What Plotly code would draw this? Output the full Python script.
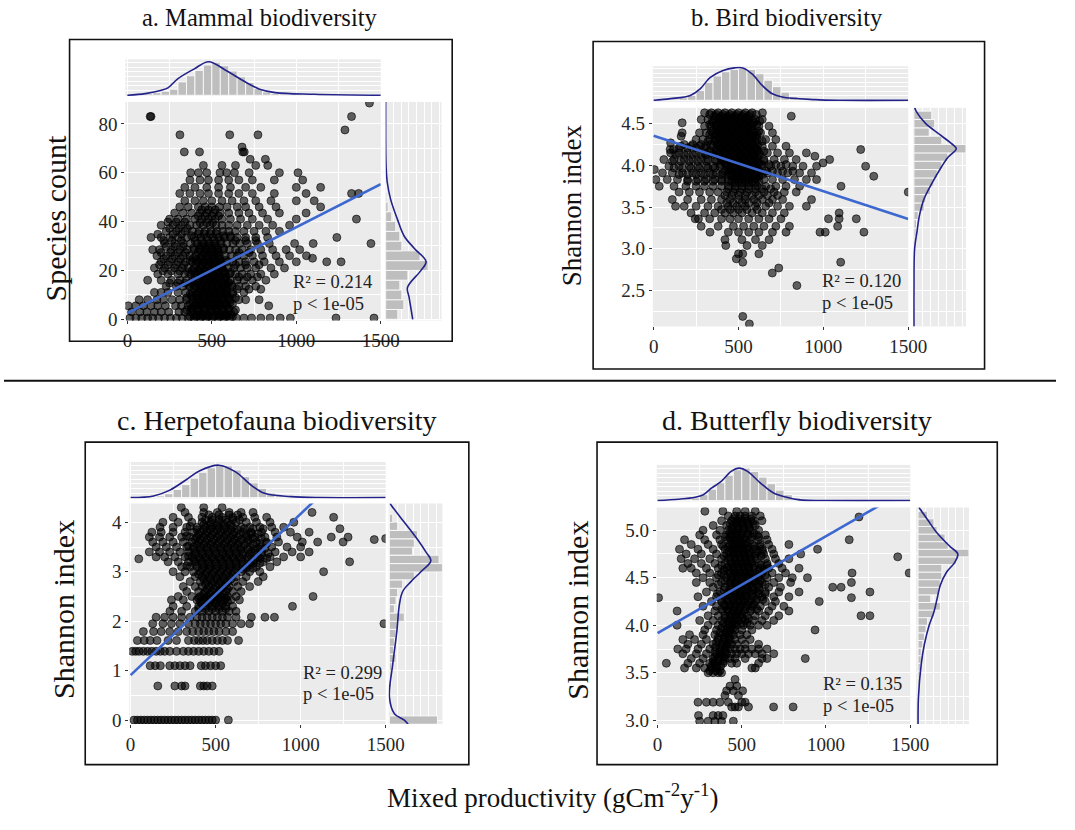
import plotly.graph_objects as go

W, H = 1075, 830
SERIF = "Liberation Serif, Times New Roman, serif"


def fx(p):
    return p / W


def fy(p):
    return 1 - p / H


# ---------------------------------------------------------------------------
# Shared x data
# ---------------------------------------------------------------------------
prod_ticks = [0, 500, 1000, 1500]
prod_minor = [250, 750, 1250]
fit_x = [0, 1500]
top_bin_centers = [25, 75, 125, 175, 225, 275, 325, 375, 425, 475, 525, 575, 625, 675, 725,
                   775, 825, 875, 925, 975, 1025, 1075, 1125, 1175, 1225, 1275, 1325, 1375, 1425, 1475]

# ---------------------------------------------------------------------------
# a. Mammals: species count  (rows of points: (y, [x, ...]))
# ---------------------------------------------------------------------------
mammal_rows = [
    (0.5, [15, 50, 85, 120, 150, 185, 220, 255, 290, 325, 360, 395, 430, 465, 500, 535, 570, 605, 645, 690, 735, 790, 845, 905, 965, 1235, 1460]),
    (1, [372, 408, 442, 478, 512, 548, 585, 622]),
    (1.5, [410, 445, 480, 515, 555, 590]),
    (2, [395, 430, 465, 540, 575, 615]),
    (3, [25, 75, 115, 160, 200, 245, 305, 340, 375, 425, 470, 500, 530, 575, 630]),
    (3.8, [352, 388, 422, 458, 492, 528, 566, 602, 640]),
    (4.5, [380, 415, 450, 490, 525, 560, 600]),
    (5.5, [5, 50, 95, 140, 180, 225, 285, 320, 360, 395, 440, 485, 515, 545, 590, 837]),
    (6.2, [372, 408, 442, 478, 512, 548, 585, 622]),
    (6.5, [430, 470, 505, 540, 580]),
    (7, [390, 425, 460, 495, 530, 570, 610]),
    (8, [70, 120, 175, 215, 265, 310, 350, 410, 455, 490, 530, 560, 610, 660, 700, 780]),
    (8.8, [352, 388, 422, 458, 492, 528, 566, 602, 640]),
    (9.5, [380, 410, 445, 480, 515, 550, 590]),
    (10.3, [372, 408, 442, 478, 512, 548, 585, 622]),
    (11, [160, 200, 240, 300, 345, 385, 420, 455, 490, 520, 555, 590, 625, 690]),
    (11.8, [440, 475, 510, 545, 585]),
    (12.3, [650, 720, 790]),
    (12.5, [395, 430, 465, 500, 535, 575]),
    (13.5, [230, 290, 330, 370, 405, 440, 470, 500, 530, 560, 590, 620, 660, 700, 760]),
    (14.2, [362, 398, 432, 468, 502, 538, 576, 612]),
    (14.8, [250, 300, 340]),
    (15, [380, 415, 450, 485, 520, 560, 600]),
    (16, [120, 200, 260, 310, 350, 385, 420, 455, 490, 520, 550, 580, 610, 650, 690, 740, 820]),
    (16.8, [430, 470, 505, 540, 575]),
    (17.3, [660, 710, 770]),
    (17.5, [400, 440, 475, 510, 545, 585]),
    (18.5, [180, 240, 300, 340, 375, 410, 445, 480, 510, 540, 575, 605, 640, 680, 730, 790, 870]),
    (19.2, [362, 398, 432, 468, 502, 538, 576, 612]),
    (19.8, [210, 260, 310]),
    (20, [385, 420, 460, 495, 530, 570]),
    (21, [160, 220, 280, 325, 360, 395, 430, 465, 500, 530, 560, 595, 630, 670, 710, 760, 850, 930]),
    (21.8, [440, 480, 520, 560]),
    (22.3, [190, 240, 290, 335, 640, 700, 780]),
    (22.5, [405, 445, 480, 515, 555]),
    (23.5, [200, 250, 300, 345, 385, 420, 455, 490, 520, 555, 590, 625, 660, 700, 750, 810, 900, 1000, 1180, 1265]),
    (24.2, [372, 408, 442, 478, 512, 548, 585]),
    (24.8, [215, 265, 315]),
    (25, [390, 430, 470, 505, 545, 1096]),
    (26, [175, 230, 280, 330, 370, 405, 440, 475, 510, 545, 580, 615, 650, 690, 740, 800, 880, 960, 1060]),
    (26.8, [455, 495, 530]),
    (27.3, [200, 255, 300, 345, 660, 720]),
    (27.5, [420, 460, 500, 540]),
    (28.5, [150, 190, 260, 310, 355, 395, 430, 465, 500, 535, 570, 605, 640, 680, 730, 790, 860, 940, 1020]),
    (29.2, [392, 428, 462, 498, 532, 568]),
    (29.8, [230, 280, 330]),
    (30, [440, 480, 520]),
    (31, [220, 280, 330, 375, 415, 450, 485, 520, 555, 590, 625, 665, 710, 770, 840, 990, 1100, 1442]),
    (32.2, [215, 265, 320, 400, 440, 478, 515, 552, 640, 700, 760]),
    (33.5, [140, 200, 250, 300, 350, 395, 435, 470, 505, 540, 575, 610, 650, 700, 760, 830, 1240]),
    (34.2, [380, 570, 610]),
    (34.8, [180, 270, 320]),
    (35, [420, 455, 490, 525]),
    (36, [230, 290, 340, 385, 425, 460, 495, 530, 565, 600, 640, 690, 750, 820, 900]),
    (37.2, [250, 305, 355]),
    (38.5, [200, 270, 320, 370, 410, 450, 490, 525, 560, 600, 650, 710, 780, 860, 960]),
    (39.5, [430, 470, 505]),
    (39.8, [240, 290, 340]),
    (41, [250, 300, 350, 400, 440, 480, 520, 560, 610, 670, 740, 830, 1000, 1356]),
    (42.3, [420, 460, 500, 540]),
    (43.5, [280, 330, 380, 430, 470, 510, 550, 600, 660, 720, 800, 900, 1058]),
    (44.8, [440, 480, 520]),
    (46, [310, 360, 420, 460, 500, 545, 590, 650, 700, 780, 880, 1144]),
    (48.5, [340, 400, 450, 500, 560, 620, 690, 760, 850, 1000, 1106]),
    (51.5, [310, 370, 430, 480, 540, 600, 660, 740, 870, 1058, 1327, 1369]),
    (54, [340, 400, 470, 540, 610, 700, 790, 1000, 1144]),
    (57, [370, 430, 480, 540, 600, 660, 740, 870, 1038]),
    (60, [375, 421, 470, 548, 588, 634, 721, 900, 1010]),
    (63, [450, 560, 640, 760, 831]),
    (65.5, [727, 817]),
    (68.5, [337, 427, 683, 692]),
    (70.5, [679]),
    (75.5, [311, 606, 773]),
    (77.5, [1288]),
    (83, [135, 140, 1327]),
    (88.5, [1433]),
]
mammal_fit = [2.5, 55.3]
mammal_top_hist = [0.01, 0.03, 0.05, 0.08, 0.12, 0.18, 0.40, 0.58, 0.74, 0.90, 0.98, 0.88, 0.72, 0.55, 0.38,
                   0.20, 0.10, 0.06, 0.04, 0.03, 0.02, 0.02, 0.01, 0.01, 0.01, 0.01, 0.01, 0.0, 0.01, 0.01]
mammal_top_curve_x = [0, 106, 202, 240, 298, 394, 481, 587, 683, 779, 875, 1106, 1500]
mammal_top_curve_y = [0.0, 0.05, 0.15, 0.22, 0.49, 0.78, 1.0, 0.73, 0.44, 0.19, 0.08, 0.03, 0.0]
mammal_right_bins = [2, 6, 10, 14, 18, 22, 26, 30, 34, 38, 42, 46, 50, 54, 58, 62, 66, 70, 74, 78, 82, 86]
mammal_right_hist = [0.30, 0.45, 0.40, 0.35, 0.55, 1.05, 0.85, 0.40, 0.35, 0.25, 0.15, 0.06, 0.03, 0.02,
                     0.01, 0.01, 0.01, 0.0, 0.01, 0.0, 0.01, 0.01]
mammal_right_curve_y = [0, 5, 9, 13, 20, 23.6, 29, 34, 41, 49, 56, 63, 75, 89]
mammal_right_curve_w = [0.67, 0.62, 0.58, 0.54, 0.875, 1.0, 0.71, 0.46, 0.29, 0.125, 0.04, 0.01, 0.0, 0.0]

# ---------------------------------------------------------------------------
# b. Birds: Shannon index
# ---------------------------------------------------------------------------
bird_rows = [
    (4.63, [300, 340, 380, 420, 460, 500, 540, 580, 641]),
    (4.61, [330, 368, 408, 448, 488, 528, 568, 605]),
    (4.59, [360, 400, 440, 480, 520, 560, 811]),
    (4.57, [385, 425, 465, 505, 545]),
    (4.55, [280, 320, 360, 400, 440, 480, 520, 560, 600, 640]),
    (4.53, [345, 385, 425, 465, 505, 545, 585, 625]),
    (4.51, [168, 350, 390, 430, 470, 510, 550, 590]),
    (4.49, [330, 368, 408, 448, 488, 528, 568, 608]),
    (4.47, [300, 340, 380, 420, 460, 500, 540, 580, 620, 680]),
    (4.45, [395, 435, 475, 515, 555]),
    (4.43, [370, 410, 450, 490, 530, 570]),
    (4.41, [340, 380, 420, 460, 500, 540, 580, 620]),
    (4.39, [168, 270, 310, 350, 390, 430, 470, 510, 550, 590, 630, 700]),
    (4.37, [330, 370, 410, 450, 490, 530, 570, 610]),
    (4.35, [162, 360, 400, 440, 480, 520, 560, 600]),
    (4.33, [385, 425, 465, 505, 545, 585]),
    (4.31, [250, 290, 330, 370, 410, 450, 490, 530, 570, 610, 660, 720]),
    (4.29, [320, 360, 400, 440, 480, 520, 560, 600, 640]),
    (4.27, [100, 380, 420, 460, 500, 540, 580]),
    (4.25, [180, 230, 280, 335, 375, 415, 455, 495, 535, 575, 615]),
    (4.23, [160, 220, 270, 310, 350, 390, 430, 470, 510, 550, 590, 640, 700, 780]),
    (4.21, [150, 200, 250, 300, 400, 440, 480, 520, 560, 600]),
    (4.19, [97, 116, 370, 410, 450, 490, 530, 570, 610, 1220]),
    (4.17, [330, 370, 410, 450, 490, 530, 570, 610, 650]),
    (4.15, [100, 150, 200, 250, 300, 340, 380, 420, 460, 500, 540, 580, 620, 670, 730, 800, 900]),
    (4.13, [130, 180, 230, 280, 310, 345, 385, 425, 465, 505, 545, 585, 625]),
    (4.11, [390, 430, 470, 510, 550, 590, 950]),
    (4.09, [410, 450, 490, 530, 570, 610]),
    (4.07, [60, 120, 180, 230, 280, 320, 360, 400, 440, 480, 520, 560, 600, 650, 710, 770, 840, 1037]),
    (4.05, [110, 160, 210, 260, 310, 370, 410, 450, 490, 530, 570, 610, 650]),
    (4.03, [420, 460, 500, 540, 580, 620, 998]),
    (4.01, [395, 435, 475, 515, 555, 595, 635, 680, 720, 780]),
    (3.99, [90, 150, 210, 260, 310, 350, 390, 430, 470, 510, 550, 590, 640, 690, 750, 820, 880, 960, 1249]),
    (3.97, [120, 170, 220, 270, 320, 360, 450, 490, 530, 570, 610]),
    (3.95, [4, 440, 480, 520, 560, 600]),
    (3.93, [420, 460, 500, 540, 580, 620, 660, 700, 760, 820]),
    (3.91, [52, 110, 170, 230, 280, 330, 370, 410, 450, 490, 530, 570, 620, 670, 730, 790, 860, 930]),
    (3.89, [150, 200, 250, 300, 350, 400, 440, 480, 520, 560, 600, 640]),
    (3.87, [460, 500, 540, 580, 620, 1297]),
    (3.85, [480, 520, 560, 600]),
    (3.83, [13, 80, 140, 200, 260, 310, 360, 400, 440, 480, 520, 560, 600, 650, 700, 760, 830, 900, 960]),
    (3.81, [200, 250, 300, 350, 400, 440, 460, 500, 540, 580, 620]),
    (3.79, [480, 520, 560, 600]),
    (3.75, [33, 120, 190, 250, 300, 350, 400, 440, 480, 520, 560, 610, 660, 720, 780, 860, 1104]),
    (3.72, [440, 480, 520, 560, 600, 640, 690]),
    (3.68, [150, 210, 270, 330, 380, 430, 470, 510, 550, 600, 650, 710, 770, 840, 1500]),
    (3.64, [420, 460, 500, 540, 580, 620, 670, 730]),
    (3.59, [110, 200, 280, 340, 400, 450, 500, 540, 590, 640, 700, 760, 930]),
    (3.55, [430, 470, 520, 560, 610, 680]),
    (3.51, [129, 180, 250, 320, 380, 440, 490, 540, 600, 660, 730, 800, 900]),
    (3.47, [400, 450, 500, 550, 610]),
    (3.43, [220, 300, 360, 420, 470, 520, 580, 640, 700, 770, 1093]),
    (3.36, [245, 264, 330, 400, 450, 500, 560, 620, 680, 750, 1030, 1093, 1194]),
    (3.27, [280, 380, 470, 530, 590, 650, 720, 800, 1084]),
    (3.20, [332, 440, 500, 560, 620, 700, 780, 980, 1011, 1239]),
    (3.11, [420, 520, 600, 680]),
    (3.04, [425, 550, 640]),
    (2.94, [500, 525, 620]),
    (2.88, [487]),
    (2.84, [525, 1102]),
    (2.77, [737]),
    (2.71, [699]),
    (2.56, [844]),
    (2.19, [525]),
    (2.10, [564]),
]
bird_fit = [4.354, 3.358]
bird_top_hist = [0.01, 0.02, 0.04, 0.08, 0.15, 0.30, 0.55, 0.75, 0.88, 0.95, 0.98, 0.95, 0.82, 0.62, 0.42,
                 0.25, 0.12, 0.06, 0.03, 0.02, 0.01, 0.01, 0.01, 0.0, 0.01, 0.0, 0.01, 0.0, 0.0, 0.01]
bird_top_curve_x = [0, 100, 216, 274, 332, 409, 477, 525, 583, 641, 699, 757, 950, 1104, 1500]
bird_top_curve_y = [0.0, 0.05, 0.15, 0.35, 0.70, 0.92, 1.0, 1.0, 0.80, 0.45, 0.20, 0.10, 0.02, 0.0, 0.0]
bird_right_bins = [2.1, 2.2, 2.3, 2.4, 2.5, 2.6, 2.7, 2.8, 2.9, 3.0, 3.1, 3.2, 3.3, 3.4, 3.5, 3.6, 3.7,
                   3.8, 3.9, 4.0, 4.1, 4.2, 4.3, 4.4, 4.5, 4.6]
bird_right_hist = [0.01, 0.01, 0.0, 0.0, 0.01, 0.01, 0.01, 0.02, 0.02, 0.02, 0.03, 0.05, 0.06, 0.10, 0.24,
                   0.28, 0.39, 0.47, 0.55, 0.66, 0.80, 1.23, 0.66, 0.36, 0.49, 0.42]
bird_right_curve_y = [2.07, 2.5, 3.0, 3.2, 3.4, 3.6, 3.79, 3.99, 4.1, 4.2, 4.26, 4.38, 4.5, 4.65, 4.69]
bird_right_curve_w = [0.0, 0.0, 0.015, 0.07, 0.13, 0.24, 0.43, 0.66, 0.81, 1.0, 0.89, 0.58, 0.28, 0.05, 0.02]

# ---------------------------------------------------------------------------
# c. Herpetofauna: Shannon index
# ---------------------------------------------------------------------------
herp_rows = [
    (0.0, [20, 40, 60, 80, 100, 120, 140, 160, 180, 200, 220, 240, 260, 280, 300, 320, 340, 360, 380, 400, 420, 440, 460, 480, 500, 575]),
    (0.69, [160, 260, 300, 320, 410, 430, 450, 480]),
    (1.1, [115, 145, 175, 230, 260, 290, 320, 350, 415, 440, 470, 500, 530]),
    (1.39, [10, 30, 50, 75, 100, 125, 150, 175, 200, 230, 270, 310, 340, 370, 400, 430, 460, 490, 520]),
    (1.61, [40, 80, 115, 155, 220, 270, 340, 375, 400, 425, 450, 480, 510, 540, 570, 635]),
    (1.79, [75, 135, 180, 230, 280, 330, 365, 400, 430, 460, 490, 520, 560, 600]),
    (1.95, [130, 190, 240, 290, 340, 380, 410, 440, 470, 500, 530, 560, 600, 650, 700, 1490]),
    (2.08, [150, 200, 250, 300, 350, 390, 420, 450, 480, 510, 540, 570, 620, 710, 790, 846]),
    (2.2, [231, 300, 380, 420, 460, 500, 540, 580, 620]),
    (2.25, [400, 440, 480, 520, 560]),
    (2.3, [250, 330, 400, 440, 480, 520, 560, 600, 952]),
    (2.35, [420, 460, 500, 540]),
    (2.4, [410, 450, 490, 530, 570]),
    (2.43, [240, 310, 390, 430, 470, 510, 550, 590, 640]),
    (2.47, [400, 440, 480, 520, 560]),
    (2.5, [280, 360, 410, 450, 490, 530, 570, 620, 1073]),
    (2.55, [430, 470, 510, 550]),
    (2.6, [330, 400, 440, 480, 520, 560, 600, 650]),
    (2.65, [450, 490, 530, 570]),
    (2.7, [310, 380, 420, 460, 500, 540, 580, 630, 700]),
    (2.75, [440, 480, 520, 560]),
    (2.8, [350, 410, 450, 490, 530, 570, 610, 660, 750]),
    (2.85, [430, 470, 510, 550, 590]),
    (2.9, [290, 380, 420, 460, 500, 540, 580, 620, 680, 780]),
    (2.95, [400, 440, 480, 520, 560, 600]),
    (3.0, [250, 320, 370, 410, 450, 490, 530, 570, 610, 650, 700, 760, 1135]),
    (3.05, [420, 460, 500, 540, 580, 620, 660]),
    (3.07, [680, 720]),
    (3.1, [300, 350, 390, 430, 470, 510, 550, 590, 630, 680, 740, 820]),
    (3.12, [330]),
    (3.15, [380, 420, 460, 500, 540, 580, 620, 660, 700]),
    (3.17, [720, 760]),
    (3.2, [220, 280, 340, 380, 420, 460, 500, 540, 580, 620, 660, 710, 780, 860, 1288]),
    (3.25, [370, 410, 450, 490, 530, 570, 610, 650, 690, 730]),
    (3.26, [48]),
    (3.27, [760, 800]),
    (3.3, [150, 200, 260, 320, 360, 400, 440, 480, 520, 560, 600, 640, 690, 750, 820, 900, 1000]),
    (3.32, [340]),
    (3.35, [380, 420, 460, 500, 540, 580, 620, 660, 700, 770]),
    (3.37, [730, 810]),
    (3.4, [110, 170, 230, 290, 340, 380, 420, 460, 500, 540, 580, 620, 660, 710, 770, 850, 950, 1050]),
    (3.45, [370, 410, 450, 490, 530, 570, 610, 650, 690, 730]),
    (3.47, [750, 790]),
    (3.5, [150, 210, 270, 330, 370, 410, 450, 490, 530, 570, 610, 650, 700, 760, 830, 920, 1000]),
    (3.52, [340]),
    (3.55, [390, 430, 470, 510, 550, 590, 630, 670, 720]),
    (3.57, [760, 800]),
    (3.6, [130, 190, 250, 310, 360, 400, 440, 480, 520, 560, 600, 640, 690, 740, 800, 870, 1010, 1100, 1250]),
    (3.65, [380, 410, 450, 490, 530, 570, 610, 650, 690, 1433]),
    (3.67, [720, 770, 1500]),
    (3.7, [110, 170, 230, 300, 350, 390, 430, 470, 510, 550, 590, 630, 680, 730, 790, 860, 980, 1180, 1279]),
    (3.72, [330]),
    (3.75, [400, 440, 480, 520, 560, 600, 640, 680]),
    (3.77, [710, 750]),
    (3.8, [125, 180, 250, 320, 370, 410, 450, 490, 530, 570, 610, 660, 710, 770, 850, 940, 1050]),
    (3.85, [390, 430, 470, 510, 550, 590, 630]),
    (3.87, [670, 720, 780, 1231]),
    (3.9, [173, 250, 330, 390, 440, 480, 520, 560, 600, 650, 700, 760, 830, 900]),
    (3.92, [350]),
    (3.95, [430, 470, 510, 550, 590]),
    (4.0, [190, 280, 360, 420, 470, 520, 570, 620, 680, 740, 820, 960]),
    (4.05, [440, 480, 520, 560, 600, 640]),
    (4.1, [250, 340, 420, 480, 540, 600, 660, 730, 800, 1194]),
    (4.15, [460, 520, 580, 630]),
    (4.2, [320, 430, 510, 580, 650, 720, 1067]),
    (4.3, [298, 430, 538]),
]
herp_fit = [0.91, 5.80]
herp_top_hist = [0.01, 0.02, 0.03, 0.05, 0.12, 0.25, 0.40, 0.60, 0.78, 0.92, 1.00, 0.98, 0.85, 0.65, 0.45,
                 0.28, 0.14, 0.06, 0.03, 0.02, 0.01, 0.01, 0.01, 0.0, 0.0, 0.01, 0.0, 0.0, 0.0, 0.01]
herp_top_curve_x = [0, 135, 231, 327, 404, 519, 615, 712, 788, 942, 1115, 1500]
herp_top_curve_y = [0.0, 0.05, 0.23, 0.55, 0.82, 1.0, 0.80, 0.37, 0.13, 0.03, 0.0, 0.0]
herp_right_bins = [0.0, 0.25, 0.42, 0.58, 0.75, 0.92, 1.08, 1.25, 1.42, 1.58, 1.75, 1.92, 2.08, 2.25,
                   2.42, 2.58, 2.75, 2.92, 3.08, 3.25, 3.42, 3.58, 3.75, 3.92, 4.08, 4.25]
herp_right_hist = [1.16, 0.02, 0.02, 0.03, 0.05, 0.04, 0.06, 0.16, 0.10, 0.12, 0.16, 0.20, 0.36, 0.12,
                   0.16, 0.20, 0.32, 0.60, 1.28, 1.20, 0.56, 0.60, 0.68, 0.20, 0.08, 0.03]
herp_right_curve_y = [-0.08, 0.0, 0.13, 0.47, 1.13, 1.8, 2.33, 2.6, 2.8, 3.0, 3.22, 3.4, 3.65, 4.0, 4.35, 4.38]
herp_right_curve_w = [0.45, 0.36, 0.12, 0.0, 0.08, 0.18, 0.24, 0.32, 0.52, 0.76, 1.0, 0.88, 0.68, 0.36, 0.04, 0.02]

# ---------------------------------------------------------------------------
# d. Butterflies: Shannon index
# ---------------------------------------------------------------------------
butterfly_rows = [
    (2.99, [250, 300, 340, 380, 450]),
    (3.05, [243, 330, 360, 388]),
    (3.14, [440, 460, 480, 540, 689, 805]),
    (3.19, [240, 290, 330, 370, 420, 500, 520]),
    (3.26, [400, 480]),
    (3.31, [410, 450, 505]),
    (3.36, [430, 470]),
    (3.43, [460]),
    (3.5, [300, 330, 360, 380]),
    (3.52, [310, 345, 370]),
    (3.55, [160, 230, 280, 320, 350, 560, 580]),
    (3.57, [320, 350, 375]),
    (3.6, [52, 180, 250, 310, 340, 390, 440, 470, 600]),
    (3.62, [330, 360, 390]),
    (3.65, [200, 270, 330, 360, 400, 430, 460, 520, 620, 650, 877]),
    (3.67, [340, 370, 395]),
    (3.7, [150, 230, 290, 350, 380, 410, 440, 470, 500, 540, 580, 620, 690]),
    (3.72, [340, 370, 400]),
    (3.75, [120, 170, 240, 310, 370, 400, 430, 460, 490, 520, 560, 600, 650]),
    (3.77, [345, 380, 410]),
    (3.8, [180, 260, 330, 380, 410, 440, 470, 520, 600]),
    (3.82, [350, 390, 420]),
    (3.85, [150, 220, 290, 360, 400, 430, 460, 500, 550]),
    (3.87, [360, 395, 425]),
    (3.9, [190, 270, 340, 390, 420, 450, 490, 530]),
    (3.92, [370, 405, 440]),
    (3.95, [280, 350, 400, 430, 460, 500, 560, 935]),
    (3.97, [380, 415, 450]),
    (4.0, [116, 300, 360, 410, 440, 470, 510, 550, 600, 650]),
    (4.02, [390, 425, 460, 495, 530]),
    (4.05, [250, 330, 380, 420, 450, 480, 520, 570, 620, 690]),
    (4.07, [400, 435, 470, 505, 540]),
    (4.1, [300, 360, 400, 430, 460, 490, 530, 580, 640, 720, 1208, 1261]),
    (4.12, [440, 470, 500]),
    (4.15, [116, 340, 390, 420, 450, 480, 510, 550, 600, 660, 780]),
    (4.17, [380, 415, 450, 485, 520, 555, 590]),
    (4.2, [270, 350, 400, 430, 460, 490, 520, 560, 610, 680, 750]),
    (4.22, [395, 430, 465, 500, 535, 570]),
    (4.25, [320, 380, 420, 450, 480, 510, 540, 580, 640, 700, 960]),
    (4.27, [380, 415, 450, 485, 520, 555, 590, 625]),
    (4.29, [6, 1151]),
    (4.3, [240, 350, 400, 440, 470, 500, 530, 570, 620, 690, 780]),
    (4.32, [420, 460, 490, 520]),
    (4.33, [355, 560, 600, 640]),
    (4.35, [290, 370, 420, 460, 490, 520, 550, 590, 640, 720, 840, 1261]),
    (4.37, [395, 430, 465, 500, 535, 570, 605]),
    (4.4, [330, 400, 440, 470, 500, 530, 560, 600, 660, 730, 1040, 1090]),
    (4.42, [430, 465, 495, 525]),
    (4.43, [360, 560, 600, 640]),
    (4.45, [230, 310, 380, 430, 460, 490, 520, 550, 580, 620, 690, 790, 1151]),
    (4.47, [400, 435, 470, 505, 540, 575, 610]),
    (4.5, [270, 350, 410, 450, 480, 510, 540, 570, 600, 650, 720, 800, 890]),
    (4.52, [440, 470, 500, 530]),
    (4.53, [360, 395, 565, 600, 640]),
    (4.55, [230, 310, 380, 430, 460, 490, 520, 550, 580, 620, 680, 760, 1155, 1494]),
    (4.57, [425, 455, 485, 515, 545]),
    (4.58, [395, 600, 630]),
    (4.6, [150, 200, 290, 360, 410, 450, 480, 510, 540, 570, 610, 660, 740, 840]),
    (4.62, [420, 450, 480, 510, 540]),
    (4.63, [380, 575, 615, 650]),
    (4.65, [180, 260, 340, 400, 440, 470, 500, 530, 560, 600, 650, 720]),
    (4.67, [435, 465, 495, 525, 555]),
    (4.7, [140, 220, 310, 380, 420, 460, 490, 520, 550, 590, 640, 700, 780]),
    (4.72, [430, 460, 490, 520, 550, 1426]),
    (4.73, [395, 580, 615]),
    (4.75, [170, 260, 350, 410, 450, 480, 510, 540, 580, 630, 690, 850]),
    (4.77, [425, 455, 485, 515, 545]),
    (4.78, [590, 625]),
    (4.8, [130, 240, 330, 400, 440, 470, 500, 530, 570, 620, 680, 950]),
    (4.82, [420, 450, 480, 510, 540]),
    (4.83, [390, 575, 610]),
    (4.85, [200, 300, 380, 430, 460, 490, 520, 560, 610, 660, 780]),
    (4.87, [440, 470, 500, 530]),
    (4.9, [160, 280, 370, 420, 450, 480, 510, 550, 600, 650, 1138]),
    (4.92, [430, 460, 490, 520]),
    (4.93, [400, 560, 600]),
    (4.95, [250, 350, 410, 440, 470, 500, 540, 590, 640]),
    (4.97, [430, 465, 500, 535, 570]),
    (5.0, [270, 370, 420, 450, 480, 510, 550, 600]),
    (5.02, [440, 475, 510, 545]),
    (5.05, [330, 410, 450, 480, 510, 540, 580]),
    (5.07, [430, 465, 500, 535, 570]),
    (5.1, [380, 440, 470, 500, 530, 570, 620]),
    (5.12, [450, 485, 520, 555]),
    (5.14, [1196]),
    (5.15, [420, 460, 490, 520, 560, 610]),
    (5.2, [281, 388, 470, 520, 580]),
]
butterfly_fit = [3.917, 5.447]
butterfly_top_hist = [0.01, 0.02, 0.03, 0.05, 0.08, 0.18, 0.35, 0.55, 0.78, 0.95, 1.00, 0.90, 0.72, 0.52, 0.32,
                      0.18, 0.08, 0.04, 0.02, 0.01, 0.01, 0.01, 0.0, 0.01, 0.0, 0.01, 0.0, 0.0, 0.01, 0.01]
butterfly_top_curve_x = [0, 126, 223, 272, 320, 378, 437, 485, 534, 611, 689, 767, 844, 999, 1500]
butterfly_top_curve_y = [0.0, 0.04, 0.10, 0.18, 0.38, 0.59, 0.90, 1.0, 0.90, 0.54, 0.23, 0.10, 0.02, 0.0, 0.0]
butterfly_right_bins = [3.00, 3.08, 3.16, 3.24, 3.32, 3.40, 3.48, 3.56, 3.64, 3.72, 3.80, 3.88, 3.96, 4.04,
                        4.12, 4.20, 4.28, 4.36, 4.44, 4.52, 4.60, 4.68, 4.76, 4.84, 4.92, 5.00, 5.08, 5.16]
butterfly_right_hist = [0.02, 0.02, 0.03, 0.03, 0.04, 0.04, 0.05, 0.06, 0.08, 0.08, 0.12, 0.16, 0.20, 0.24,
                        0.40, 0.56, 0.32, 0.52, 0.56, 0.60, 0.60, 0.96, 1.28, 0.76, 0.68, 0.48, 0.40, 0.24]
butterfly_right_curve_y = [2.96, 3.24, 3.59, 3.8, 4.0, 4.14, 4.28, 4.42, 4.56, 4.66, 4.75, 4.83, 4.97, 5.11, 5.23, 5.24]
butterfly_right_curve_w = [0.0, 0.01, 0.08, 0.16, 0.28, 0.40, 0.48, 0.56, 0.72, 0.92, 1.0, 0.80, 0.48, 0.24, 0.04, 0.02]


def expand(rows):
    xs, ys = [], []
    for yv, xlist in rows:
        for xv in xlist:
            xs.append(xv)
            ys.append(yv)
    return xs, ys


# ---------------------------------------------------------------------------
# Panel layout (pixel boxes in the 1075 x 830 page)
# ---------------------------------------------------------------------------
panels = [
    dict(rows=mammal_rows, fit=mammal_fit, th=mammal_top_hist, tcx=mammal_top_curve_x, tcy=mammal_top_curve_y,
         rb=mammal_right_bins, rh=mammal_right_hist, rcy=mammal_right_curve_y, rcw=mammal_right_curve_w, bw=4,
         sp=(124, 385, 103, 324), tp=(60, 97), rp=(390, 447),
         xr=[-12, 1500], yr=[-0.5, 89], yt=[0, 20, 40, 60, 80], ym=[10, 30, 50, 70], yfmt="{:d}",
         trange=[-0.02, 1.07], rrange=[0, 1.38],
         title="a. Mammal biodiversity", tsize=24.5, txy=(261, 18),
         ylab="Species count", lsize=30, lxy=(53, 221),
         r2="0.214", sxy=(293, 285), box=(67, 40, 458, 345)),
    dict(rows=bird_rows, fit=bird_fit, th=bird_top_hist, tcx=bird_top_curve_x, tcy=bird_top_curve_y,
         rb=bird_right_bins, rh=bird_right_hist, rcy=bird_right_curve_y, rcw=bird_right_curve_w, bw=0.1,
         sp=(663, 924, 109, 330), tp=(67, 103), rp=(929, 983),
         xr=[-5, 1500], yr=[2.07, 4.69], yt=[2.5, 3.0, 3.5, 4.0, 4.5], ym=[2.25, 2.75, 3.25, 3.75, 4.25],
         yfmt="{:.1f}", trange=[-0.05, 1.05], rrange=[-0.02, 1.23],
         title="b. Bird biodiversity", tsize=24.5, txy=(800, 18),
         ylab="Shannon index", lsize=27, lxy=(580, 208),
         r2="0.120", sxy=(834, 284), box=(602, 42, 1002, 373)),
    dict(rows=herp_rows, fit=herp_fit, th=herp_top_hist, tcx=herp_top_curve_x, tcy=herp_top_curve_y,
         rb=herp_right_bins, rh=herp_right_hist, rcy=herp_right_curve_y, rcw=herp_right_curve_w, bw=0.1667,
         sp=(128, 390, 509, 732), tp=(467, 504), rp=(393, 448),
         xr=[-8, 1500], yr=[-0.08, 4.38], yt=[0, 1, 2, 3, 4], ym=[0.5, 1.5, 2.5, 3.5], yfmt="{:d}",
         trange=[-0.03, 1.10], rrange=[-0.02, 1.28],
         title="c. Herpetofauna biodiversity", tsize=28, txy=(279, 425),
         ylab="Shannon index", lsize=30, lxy=(61, 616),
         r2="0.299", sxy=(303, 680), box=(83, 447, 475, 773)),
    dict(rows=butterfly_rows, fit=butterfly_fit, th=butterfly_top_hist, tcx=butterfly_top_curve_x,
         tcy=butterfly_top_curve_y, rb=butterfly_right_bins, rh=butterfly_right_hist,
         rcy=butterfly_right_curve_y, rcw=butterfly_right_curve_w, bw=0.08,
         sp=(667, 926, 513, 732), tp=(470, 507), rp=(932, 986),
         xr=[-5, 1500], yr=[2.96, 5.24], yt=[3.0, 3.5, 4.0, 4.5, 5.0], ym=[3.25, 3.75, 4.25, 4.75],
         yfmt="{:.1f}", trange=[-0.03, 1.10], rrange=[-0.05, 1.28],
         title="d. Butterfly biodiversity", tsize=28, txy=(810, 425),
         ylab="Shannon index", lsize=30, lxy=(586, 617),
         r2="0.135", sxy=(835, 692), box=(606, 447, 1015, 773)),
]

POINT_FILL = "rgba(0,0,0,0.6)"
POINT_EDGE = "rgba(0,0,0,0.6)"
FIT_BLUE = "#3d68cf"
DENS_NAVY = "#22228a"
BAR_GREY = "#bebebe"
TICK_FONT = dict(family=SERIF, size=19, color="#262626")

fig = go.Figure()
layout = dict(annotations=[], shapes=[])


def ax_key(kind, n):
    return kind + "axis" + ("" if n == 1 else str(n))


def ax_ref(kind, n):
    return kind + ("" if n == 1 else str(n))


for i, p in enumerate(panels):
    ns, nt, nr = 3 * i + 1, 3 * i + 2, 3 * i + 3
    x0, x1, y0, y1 = p["sp"]
    xd = [fx(x0), fx(x1)]
    yd = [fy(y1), fy(y0)]
    td = [fy(p["tp"][1]), fy(p["tp"][0])]
    rd = [fx(p["rp"][0]), fx(p["rp"][1])]

    # --- main scatter ---
    xs, ys = expand(p["rows"])
    fig.add_trace(go.Scatter(
        x=xs, y=ys, mode="markers", xaxis=ax_ref("x", ns), yaxis=ax_ref("y", ns),
        marker=dict(size=8, color=POINT_FILL, line=dict(color=POINT_EDGE, width=1)),
        showlegend=False, hoverinfo="skip"))
    fig.add_trace(go.Scatter(
        x=fit_x, y=p["fit"], mode="lines", xaxis=ax_ref("x", ns), yaxis=ax_ref("y", ns),
        line=dict(color=FIT_BLUE, width=2.6), showlegend=False, hoverinfo="skip"))

    # --- top marginal (productivity) ---
    fig.add_trace(go.Bar(
        x=top_bin_centers, y=p["th"], width=50, xaxis=ax_ref("x", nt), yaxis=ax_ref("y", nt),
        marker=dict(color=BAR_GREY, line=dict(color="white", width=0.8)),
        showlegend=False, hoverinfo="skip"))
    fig.add_trace(go.Scatter(
        x=p["tcx"], y=p["tcy"], mode="lines", line_shape="spline",
        xaxis=ax_ref("x", nt), yaxis=ax_ref("y", nt),
        line=dict(color=DENS_NAVY, width=1.6), showlegend=False, hoverinfo="skip"))

    # --- right marginal (diversity) ---
    fig.add_trace(go.Bar(
        y=p["rb"], x=p["rh"], orientation="h", width=p["bw"],
        xaxis=ax_ref("x", nr), yaxis=ax_ref("y", nr),
        marker=dict(color=BAR_GREY, line=dict(color="white", width=0.8)),
        showlegend=False, hoverinfo="skip"))
    fig.add_trace(go.Scatter(
        x=p["rcw"], y=p["rcy"], mode="lines", line_shape="spline",
        xaxis=ax_ref("x", nr), yaxis=ax_ref("y", nr),
        line=dict(color=DENS_NAVY, width=1.6), showlegend=False, hoverinfo="skip"))

    grid = dict(showgrid=True, gridcolor="white", gridwidth=1.3, zeroline=False, showline=False)
    minor_x = dict(tickvals=prod_minor, showgrid=True, gridcolor="white", gridwidth=0.6, ticks="")
    minor_y = dict(tickvals=p["ym"], showgrid=True, gridcolor="white", gridwidth=0.6, ticks="")

    layout[ax_key("x", ns)] = dict(
        domain=xd, range=p["xr"], anchor=ax_ref("y", ns), tickvals=prod_ticks,
        ticktext=[str(v) for v in prod_ticks], ticks="outside", ticklen=3, tickcolor="#333",
        tickfont=TICK_FONT, minor=minor_x, **grid)
    layout[ax_key("y", ns)] = dict(
        domain=yd, range=p["yr"], anchor=ax_ref("x", ns), tickvals=p["yt"],
        ticktext=[p["yfmt"].format(v) for v in p["yt"]], ticks="outside", ticklen=3, tickcolor="#333",
        tickfont=TICK_FONT, minor=minor_y, **grid)

    layout[ax_key("x", nt)] = dict(
        domain=xd, range=p["xr"], anchor=ax_ref("y", nt), showticklabels=False, ticks="",
        tickvals=prod_ticks, minor=minor_x, **grid)
    layout[ax_key("y", nt)] = dict(
        domain=td, range=p["trange"], anchor=ax_ref("x", nt), showticklabels=False, ticks="",
        dtick=0.14, tick0=0, **grid)

    layout[ax_key("x", nr)] = dict(
        domain=rd, range=p["rrange"], anchor=ax_ref("y", nr), showticklabels=False, ticks="",
        dtick=0.19, tick0=0, **grid)
    layout[ax_key("y", nr)] = dict(
        domain=yd, range=p["yr"], anchor=ax_ref("x", nr), showticklabels=False, ticks="",
        tickvals=p["yt"], minor=minor_y, **grid)

    # --- panel text ---
    layout["annotations"].append(dict(
        text=p["title"], x=fx(p["txy"][0]), y=fy(p["txy"][1]), xref="paper", yref="paper",
        xanchor="center", yanchor="middle", showarrow=False,
        font=dict(family=SERIF, size=p["tsize"], color="#111")))
    layout["annotations"].append(dict(
        text=p["ylab"], x=fx(p["lxy"][0]), y=fy(p["lxy"][1]), xref="paper", yref="paper",
        xanchor="center", yanchor="middle", showarrow=False, textangle=-90,
        font=dict(family=SERIF, size=p["lsize"], color="#111")))
    layout["annotations"].append(dict(
        text="R² = " + p["r2"], x=fx(p["sxy"][0]), y=fy(p["sxy"][1]), xref="paper",
        yref="paper", xanchor="left", yanchor="middle", showarrow=False,
        font=dict(family=SERIF, size=18.5, color="#222")))
    layout["annotations"].append(dict(
        text="p < 1e-05", x=fx(p["sxy"][0]), y=fy(p["sxy"][1] + 22), xref="paper",
        yref="paper", xanchor="left", yanchor="middle", showarrow=False,
        font=dict(family=SERIF, size=18.5, color="#222")))

    bx0, by0, bx1, by1 = p["box"]
    layout["shapes"].append(dict(
        type="rect", xref="paper", yref="paper", x0=fx(bx0), x1=fx(bx1), y0=fy(by1), y1=fy(by0),
        line=dict(color="#111", width=1.6), fillcolor="rgba(0,0,0,0)", layer="above"))

# separator between the two rows of panels
layout["shapes"].append(dict(
    type="line", xref="paper", yref="paper", x0=0, x1=1, y0=fy(385), y1=fy(385),
    line=dict(color="#111", width=2)))

layout["annotations"].append(dict(
    text="Mixed productivity (gCm<sup>-2</sup>y<sup>-1</sup>)", x=fx(560), y=fy(805),
    xref="paper", yref="paper", xanchor="center", yanchor="middle", showarrow=False,
    font=dict(family=SERIF, size=27, color="#111")))

fig.update_layout(
    width=W, height=H, margin=dict(l=0, r=0, t=0, b=0),
    paper_bgcolor="white", plot_bgcolor="#ebebeb", barmode="overlay",
    showlegend=False, **layout)

fig.write_html("out.html")
